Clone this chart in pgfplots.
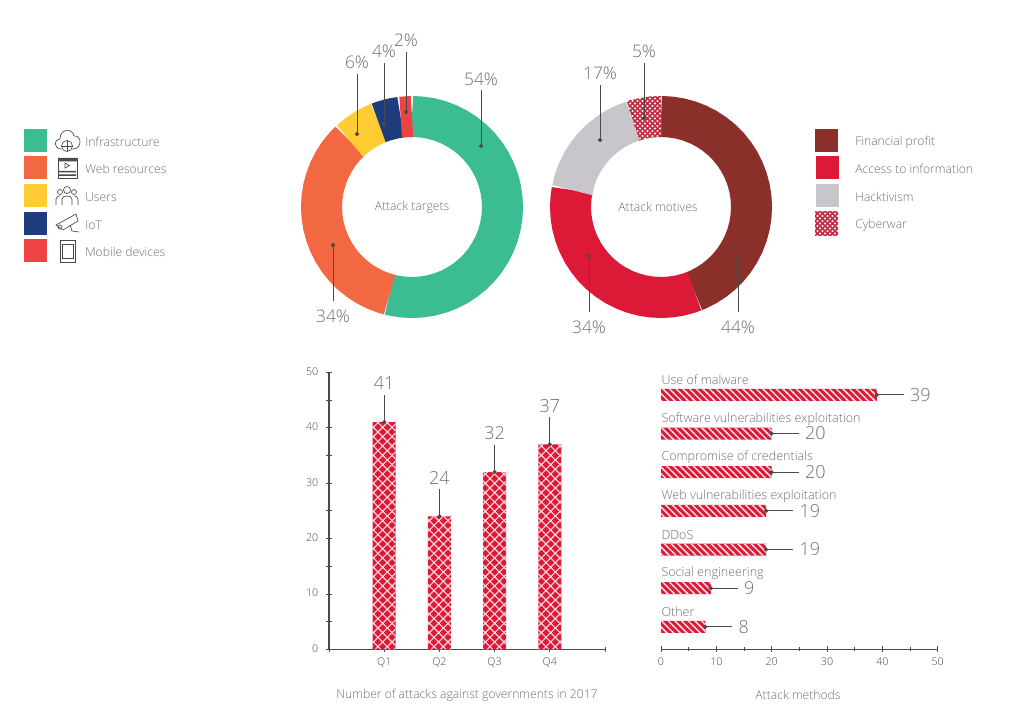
\documentclass[border=0pt]{standalone}
\usepackage{fontspec}
\setmainfont{Open Sans Light}
\usepackage{pgfplots}
\pgfplotsset{compat=1.18}
\usepgfplotslibrary{polar}
\usetikzlibrary{patterns}
\definecolor{cGreen}{HTML}{3BBC93}
\definecolor{cOrange}{HTML}{F26842}
\definecolor{cYellow}{HTML}{FFCC33}
\definecolor{cNavy}{HTML}{1F3C7C}
\definecolor{cRed}{HTML}{EE4344}
\definecolor{cDark}{HTML}{8B2F2B}
\definecolor{cCrimson}{HTML}{DC1A37}
\definecolor{cGray}{HTML}{C8C6CA}
\definecolor{cWar}{HTML}{C22F45}
\definecolor{cText}{HTML}{6F6F6F}
\definecolor{cLine}{HTML}{4A4A4A}
\definecolor{cHatch}{HTML}{FBD5DA}
\pgfdeclarepatternformonly{diamonds}{\pgfqpoint{-1pt}{-1pt}}{\pgfqpoint{8pt}{8pt}}{\pgfqpoint{7pt}{7pt}}{%
  \pgfsetlinewidth{0.85pt}%
  \pgfpathmoveto{\pgfqpoint{-0.5pt}{-0.5pt}}\pgfpathlineto{\pgfqpoint{7.5pt}{7.5pt}}%
  \pgfpathmoveto{\pgfqpoint{-0.5pt}{7.5pt}}\pgfpathlineto{\pgfqpoint{7.5pt}{-0.5pt}}%
  \pgfusepath{stroke}}
\pgfdeclarepatternformonly{stripes}{\pgfqpoint{-1pt}{-1pt}}{\pgfqpoint{6pt}{6pt}}{\pgfqpoint{5pt}{5pt}}{%
  \pgfsetlinewidth{1.1pt}%
  \pgfpathmoveto{\pgfqpoint{-0.5pt}{5.5pt}}\pgfpathlineto{\pgfqpoint{5.5pt}{-0.5pt}}%
  \pgfusepath{stroke}}
\pgfdeclarepatternformonly{lattice}{\pgfqpoint{-1pt}{-1pt}}{\pgfqpoint{4.75pt}{4.75pt}}{\pgfqpoint{3.75pt}{3.75pt}}{%
  \pgfsetlinewidth{1.1pt}%
  \pgfpathmoveto{\pgfqpoint{-0.5pt}{-0.5pt}}\pgfpathlineto{\pgfqpoint{4.25pt}{4.25pt}}%
  \pgfpathmoveto{\pgfqpoint{-0.5pt}{4.25pt}}\pgfpathlineto{\pgfqpoint{4.25pt}{-0.5pt}}%
  \pgfusepath{stroke}}
\newcommand\legtext{\fontsize{9.1}{11}\selectfont}
\newcommand\methtext{\fontsize{9.4}{11}\selectfont}
\newcommand\pct{\fontsize{13}{15}\selectfont}
\newcommand\bign{\fontsize{13.5}{16}\selectfont}
\pgfplotsset{
  ring/.style={line width=30.75pt, line cap=butt, line join=miter, mark=none},
  leader/.style={draw=cLine, line width=0.7pt, mark=*, mark indices={1}, mark size=1.2pt, mark options={fill=cLine, draw=cLine}},
  polar page/.style={scale only axis, width=180pt, height=180pt, xmin=0, xmax=360, ymin=0, ymax=120, hide axis, clip=false, anchor=center},
}
\begin{document}
\begin{tikzpicture}
\useasboundingbox (0,0) rectangle (756.75pt,544.5pt);

% Attack targets: 54, 34, 6, 4, 2 per cent
\begin{polaraxis}[polar page, at={(309pt,389.25pt)}]
\addplot[ring, draw=cGreen] coordinates {(90,90.5)(84,90.5)(78,90.5)(72,90.5)(66,90.5)(60,90.5)(54,90.5)(48,90.5)(42,90.5)(36,90.5)(30,90.5)(24,90.5)(18,90.5)(12,90.5)(6,90.5)(0,90.5)(-6,90.5)(-12,90.5)(-18,90.5)(-24,90.5)(-30,90.5)(-36,90.5)(-42,90.5)(-48,90.5)(-54,90.5)(-60,90.5)(-66,90.5)(-72,90.5)(-78,90.5)(-84,90.5)(-90,90.5)(-96,90.5)(-102,90.5)(-104.4,90.5)};
\addplot[ring, draw=cOrange] coordinates {(-104.4,90.5)(-108,90.5)(-114,90.5)(-120,90.5)(-126,90.5)(-132,90.5)(-138,90.5)(-144,90.5)(-150,90.5)(-156,90.5)(-162,90.5)(-168,90.5)(-174,90.5)(-180,90.5)(-186,90.5)(-192,90.5)(-198,90.5)(-204,90.5)(-210,90.5)(-216,90.5)(-222,90.5)(-226.8,90.5)};
\addplot[ring, draw=cYellow] coordinates {(-226.8,90.5)(-234,90.5)(-240,90.5)(-246,90.5)(-248.4,90.5)};
\addplot[ring, draw=cNavy] coordinates {(-248.4,90.5)(-252,90.5)(-258,90.5)(-262.8,90.5)};
\addplot[ring, draw=cRed] coordinates {(-262.8,90.5)(-270,90.5)};
\end{polaraxis}

% Attack motives: 44, 34, 17, 5 per cent
\begin{polaraxis}[polar page, at={(495.75pt,389.25pt)}]
\addplot[ring, draw=cDark] coordinates {(90,90.5)(84,90.5)(78,90.5)(72,90.5)(66,90.5)(60,90.5)(54,90.5)(48,90.5)(42,90.5)(36,90.5)(30,90.5)(24,90.5)(18,90.5)(12,90.5)(6,90.5)(0,90.5)(-6,90.5)(-12,90.5)(-18,90.5)(-24,90.5)(-30,90.5)(-36,90.5)(-42,90.5)(-48,90.5)(-54,90.5)(-60,90.5)(-66,90.5)(-68.4,90.5)};
\addplot[ring, draw=cCrimson] coordinates {(-68.4,90.5)(-72,90.5)(-78,90.5)(-84,90.5)(-90,90.5)(-96,90.5)(-102,90.5)(-108,90.5)(-114,90.5)(-120,90.5)(-126,90.5)(-132,90.5)(-138,90.5)(-144,90.5)(-150,90.5)(-156,90.5)(-162,90.5)(-168,90.5)(-174,90.5)(-180,90.5)(-186,90.5)(-190.8,90.5)};
\addplot[ring, draw=cGray] coordinates {(-190.8,90.5)(-198,90.5)(-204,90.5)(-210,90.5)(-216,90.5)(-222,90.5)(-228,90.5)(-234,90.5)(-240,90.5)(-246,90.5)(-252,90.5)};
\addplot[draw=none, fill=white, mark=none, postaction={pattern=lattice, pattern color=cWar}] coordinates {(90,70)(90,111)(96,111)(102,111)(108,111)(108,70)(102,70)(96,70)} -- cycle;
\end{polaraxis}

% Number of attacks against governments
\begin{axis}[
  at={(246.75pt,57.5pt)}, anchor=south west, scale only axis,
  width=207pt, height=207.75pt,
  xmin=0, xmax=5, ymin=0, ymax=50, clip=false,
  axis lines=left, axis line style={-, draw=cLine, line width=0.8pt},
  xtick={0,1,2,3,4,5}, xticklabels={,Q1,Q2,Q3,Q4,},
  ytick={0,10,20,30,40,50}, minor ytick={5,15,25,35,45},
  tick align=center, tick style={draw=cLine, line width=0.6pt},
  major tick length=4pt, minor tick length=4pt,
  tick label style={text=cLine, font=\fontsize{8}{10}\selectfont, /pgf/number format/assume math mode=true},
  yticklabel style={xshift=-2.5pt, yshift=0.7pt}, xticklabel style={yshift=-1pt},
]
\addplot[ybar, bar width=17.25pt, draw=none, fill=cCrimson, postaction={pattern=diamonds, pattern color=cHatch}] coordinates {(1,41)(2,24)(3,32)(4,37)};
\addplot[leader] coordinates {(1,41)(1,45.9)};
\addplot[leader] coordinates {(2,24)(2,28.9)};
\addplot[leader] coordinates {(3,32)(3,36.9)};
\addplot[leader] coordinates {(4,37)(4,41.9)};
\node[text=cText, inner sep=0pt, font=\bign] at (axis cs:1,48) {41};
\node[text=cText, inner sep=0pt, font=\bign] at (axis cs:2,31) {24};
\node[text=cText, inner sep=0pt, font=\bign] at (axis cs:3,39) {32};
\node[text=cText, inner sep=0pt, font=\bign] at (axis cs:4,44) {37};
\end{axis}

% Attack methods
\begin{axis}[
  at={(495.75pt,57.75pt)}, anchor=south west, scale only axis,
  width=207.5pt, height=205.1pt,
  xmin=0, xmax=50, ymin=0.427, ymax=7.5, clip=false,
  axis x line=bottom, axis y line=left,
  x axis line style={-, draw=cLine, line width=0.7pt},
  y axis line style={draw=none},
  xtick={0,10,20,30,40,50}, minor xtick={5,15,25,35,45},
  ytick={1,2,3,4,5,6,7},
  yticklabels={Other,Social engineering,DDoS,Web vulnerabilities exploitation,Compromise of credentials,Software vulnerabilities exploitation,Use of malware},
  tick align=center, x tick style={draw=cLine, line width=0.6pt}, y tick style={draw=none},
  major tick length=4pt, minor tick length=3pt,
  xticklabel style={text=cLine, font=\fontsize{8}{10}\selectfont, /pgf/number format/assume math mode=true, yshift=-1pt},
  yticklabel style={text=cText, font=\methtext, anchor=west, inner sep=0pt, xshift=2.2pt, yshift=11pt},
]
\addplot[xbar, bar width=9pt, draw=none, fill=cCrimson, postaction={pattern=stripes, pattern color=cHatch}] coordinates {(39,7)(20,6)(20,5)(19,4)(19,3)(9,2)(8,1)};
\addplot[leader] coordinates {(39,7)(43.9,7)};
\addplot[leader] coordinates {(20,6)(24.9,6)};
\addplot[leader] coordinates {(20,5)(24.9,5)};
\addplot[leader] coordinates {(19,4)(23.9,4)};
\addplot[leader] coordinates {(19,3)(23.9,3)};
\addplot[leader] coordinates {(9,2)(13.9,2)};
\addplot[leader] coordinates {(8,1)(12.9,1)};
\node[text=cText, inner sep=0pt, anchor=west, font=\bign, xshift=4.5pt] at (axis cs:43.9,7) {39};
\node[text=cText, inner sep=0pt, anchor=west, font=\bign, xshift=4.5pt] at (axis cs:24.9,6) {20};
\node[text=cText, inner sep=0pt, anchor=west, font=\bign, xshift=4.5pt] at (axis cs:24.9,5) {20};
\node[text=cText, inner sep=0pt, anchor=west, font=\bign, xshift=4.5pt] at (axis cs:23.9,4) {19};
\node[text=cText, inner sep=0pt, anchor=west, font=\bign, xshift=4.5pt] at (axis cs:23.9,3) {19};
\node[text=cText, inner sep=0pt, anchor=west, font=\bign, xshift=4.5pt] at (axis cs:13.9,2) {9};
\node[text=cText, inner sep=0pt, anchor=west, font=\bign, xshift=4.5pt] at (axis cs:12.9,1) {8};
\end{axis}

% Donut leaders in page pixels
\begin{axis}[
  at={(0pt,0pt)}, anchor=south west, scale only axis,
  width=756.75pt, height=544.5pt,
  xmin=0, xmax=1009, ymin=0, ymax=726, y dir=reverse, hide axis, clip=false,
]
\addplot[leader] coordinates {(481,146)(481,90)};
\addplot[leader] coordinates {(333,245)(333,301)};
\addplot[leader] coordinates {(357,134)(357,74)};
\addplot[leader] coordinates {(384,124)(384,63)};
\addplot[leader] coordinates {(406,112)(406,52)};
\addplot[leader] coordinates {(644,118)(644,63)};
\addplot[leader] coordinates {(600,140)(600,85)};
\addplot[leader] coordinates {(589,256)(589,312)};
\addplot[leader] coordinates {(738,256)(738,312)};
\end{axis}

\begin{scope}[x=0.75pt, y=-0.75pt, yshift=544.5pt]
% percentage labels
\foreach \x/\y/\t in {481/79/54\%,333/316/34\%,357/62/6\%,384/51/4\%,406/40/2\%,644/51/5\%,600/73/17\%,589/327/34\%,738/327/44\%}{
  \node[text=cText, inner sep=0pt, font=\pct] at (\x,\y) {\t};
}
% centres and captions
\node[text=cText, inner sep=0pt, font=\legtext] at (412,207) {Attack targets};
\node[text=cText, inner sep=0pt, font=\legtext] at (658,207) {Attack motives};
\node[text=cText, inner sep=0pt, font=\legtext] at (467,695) {Number of attacks against governments in 2017};
\node[text=cText, inner sep=0pt, font=\legtext] at (798,695) {Attack methods};
% left legend
\fill[cGreen] (24,129) rectangle (47,152);
\fill[cOrange] (24,156) rectangle (47,179);
\fill[cYellow] (24,184) rectangle (47,207);
\fill[cNavy] (24,212) rectangle (47,235);
\fill[cRed] (24,239) rectangle (47,262);
\foreach \y/\t in {142/Infrastructure,169/Web resources,197/Users,225/IoT,252/Mobile devices}{
  \node[text=cText, inner sep=0pt, anchor=west, font=\legtext] at (85,\y) {\t};
}
% right legend
\fill[cDark] (815,129) rectangle (838,152);
\fill[cCrimson] (816,156) rectangle (839,179);
\fill[cGray] (816,184) rectangle (839,207);
\fill[white, postaction={pattern=lattice, pattern color=cWar}] (815,212) rectangle (838,235);
\foreach \y/\t in {142/Financial profit,169/Access to information,197/Hacktivism,225/Cyberwar}{
  \node[text=cText, inner sep=0pt, anchor=west, font=\legtext] at (855,\y) {\t};
}
% icons
\begin{scope}[draw=cLine, line width=0.5pt]
\draw (61,149) .. controls (53,148) and (54,139) .. (60,139) .. controls (60,129) and (72,127) .. (74,136) .. controls (82,135) and (82,148) .. (74,149) -- (72,149);
\draw (67,146) circle [radius=5.5]; \draw (61.5,146) -- (72.5,146) (67,140.5) -- (67,151.5);
\draw (58,158) rectangle (77,178);
\fill[cLine] (58,158) rectangle (77,161.5) (59,171) rectangle (76,172.5) (59,174.5) rectangle (76,176);
\draw (65,163) -- (65,168) -- (69.5,165.5) -- cycle;
\draw (67,190) circle [radius=3.5]; \draw (60,192) circle [radius=2.5]; \draw (74,192) circle [radius=2.5];
\draw (62,205) -- (62,199) .. controls (62,195) and (72,195) .. (72,199) -- (72,205);
\draw (56,205) -- (56,199) .. controls (56,196) and (59,196) .. (60,196);
\draw (78,205) -- (78,199) .. controls (78,196) and (75,196) .. (74,196);
\draw (56,225) -- (76,214) -- (78,221) -- (63,230) -- cycle;
\draw (60,227) circle [radius=2]; \draw (70,225) -- (72,231) -- (79,232);
\draw (60,240) rectangle (75,262); \draw (62,244) rectangle (73,258);
\end{scope}
\end{scope}
\end{tikzpicture}
\end{document}
